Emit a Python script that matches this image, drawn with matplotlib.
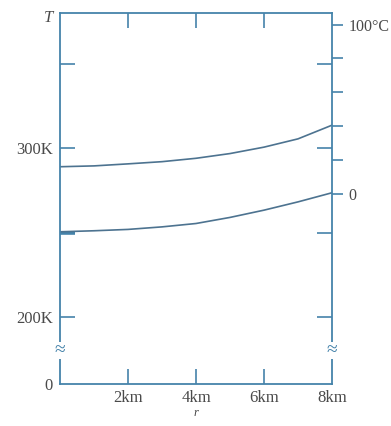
import numpy as np
import matplotlib
matplotlib.use("Agg")
import matplotlib.pyplot as plt

plt.rcParams['font.family'] = ['Liberation Serif', 'DejaVu Serif']
plt.rcParams['font.size'] = 12

# distance (km) and temperatures (K)
r_km = [0, 1, 2, 3, 4, 5, 6, 7, 8]
T_upper = [289.0, 289.5, 290.7, 292.0, 294.0, 296.8, 300.6, 305.5, 313.6]
T_lower = [250.5, 251.1, 251.9, 253.4, 255.4, 259.0, 263.3, 268.2, 273.6]

k_ticks = [200, 250, 300, 350]
k_labels = ['200K', '', '300K', '']
c_ticks = [0, 20, 40, 60, 80, 100]
c_labels = ['0', '', '', '', '', '100°C']
r_ticks = [2, 4, 6, 8]
r_labels = ['2km', '4km', '6km', '8km']

axis_col = '#4583aa'
curve_col = '#4d7390'
text_col = '#4a4a4a'

y_bot, y_top = 160.4, 380.0   # kelvin scale, bottom is the broken "0"
y_break = 180.5

fig = plt.figure(figsize=(3.91, 4.26), dpi=100)
ax = fig.add_axes([60/391, 42/426, 272/391, 371/426])

ax.plot(r_km, T_upper, color=curve_col, lw=1.2)
ax.plot(r_km, T_lower, color=curve_col, lw=1.2)

ax.set_xlim(0, 8)
ax.set_ylim(y_bot, y_top)

# celsius scale on the right
ax2 = ax.twinx()
ax2.set_ylim(y_bot - 273.15, y_top - 273.15)
ax2.set_yticks(c_ticks)
ax2.set_yticklabels(c_labels)
ax2.tick_params(axis='y', direction='out', color=axis_col, width=1.2,
                length=8, labelcolor=text_col, labelsize=11.5, pad=4)
for s in ax2.spines.values():
    s.set_visible(False)

for s in ax.spines.values():
    s.set_color(axis_col)
    s.set_linewidth(1.3)

ax.set_xticks(r_ticks)
ax.set_xticklabels(r_labels)
ax.set_yticks([y_bot] + k_ticks)
ax.set_yticklabels(['0'] + k_labels)
ax.tick_params(axis='both', direction='in', color=axis_col, width=1.2,
               length=11, labelcolor=text_col, top=True, right=True,
               labelright=False, labeltop=False, pad=5)
ax.tick_params(axis='x', pad=4)
ax.yaxis.get_major_ticks()[0].tick1line.set_markersize(0)
ax.yaxis.get_major_ticks()[0].tick2line.set_markersize(0)
ax.xaxis.get_major_ticks()[-1].tick1line.set_markersize(0)
ax.xaxis.get_major_ticks()[-1].tick2line.set_markersize(0)
t250 = ax.yaxis.get_major_ticks()[2]
t250.tick1line.set_markeredgewidth(2.6)
t250.tick1line.set_color('#2f74a3')

ax.set_xlabel('r', style='italic', fontsize=9, color=text_col, labelpad=1)
ax.text(-0.35, 377, 'T', style='italic', ha='center', va='center',
        color=text_col, fontsize=12)

# axis breaks
for xb in [0, 8]:
    ax.text(xb, y_break, '≈', ha='center', va='center',
            fontsize=14, color=axis_col,
            bbox=dict(facecolor='white', edgecolor='none', pad=0.0),
            clip_on=False, zorder=5)

fig.savefig('out.png', dpi=100)
